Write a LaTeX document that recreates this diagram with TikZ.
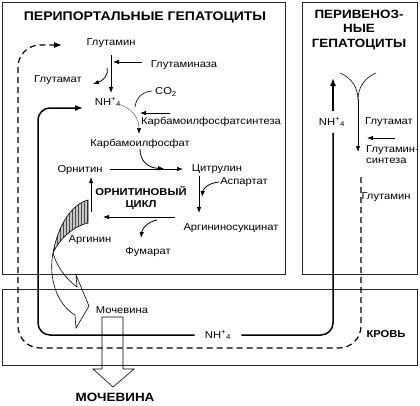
\documentclass[tikz,border=0pt]{standalone}
\usepackage{fontspec}
\setmainfont[FakeStretch=1.12]{Liberation Sans}
\usetikzlibrary{arrows.meta,patterns}
\newcommand{\nhf}{NH\textsuperscript{+}\textsubscript{4}}
\begin{document}
\begin{tikzpicture}[x=1pt,y=-1pt,
  lbl/.style={inner sep=0pt, font=\fontsize{10}{12}\selectfont},
  bld/.style={inner sep=0pt, font=\fontsize{10}{12}\selectfont\bfseries, align=center},
  ttl/.style={inner sep=0pt, font=\fontsize{12.5}{14.5}\selectfont\bfseries, align=center},
  boxline/.style={draw=black!85, line width=0.6pt},
  arr/.style={line width=0.8pt, -{Latex[length=6pt,width=4.5pt]}},
  garr/.style={line width=0.6pt, draw=black!55, -{Latex[length=6pt,width=4.5pt,fill=black,color=black]}},
  thinline/.style={line width=0.6pt},
  loopline/.style={line width=1.5pt},
  loophead/.style={-{Latex[length=8pt,width=6pt]}},
  dashline/.style={line width=1.2pt, dash pattern=on 6pt off 4pt}]
\useasboundingbox (0,0) rectangle (420,405);
% boxes
\draw[boxline] (2.5,2.5) rectangle (285,274);
\draw[boxline] (302,2.5) rectangle (417,274);
\draw[boxline] (2.5,289) rectangle (417.5,365.5);
% titles
\node[ttl] (t1) at (145,17) {ПЕРИПОРТАЛЬНЫЕ ГЕПАТОЦИТЫ};
\node[ttl, font=\fontsize{12}{14.5}\selectfont\bfseries] (t2) at (359,30) {ПЕРИВЕНОЗ-\\НЫЕ\\ГЕПАТОЦИТЫ};
% left labels
\node[lbl] (gln) at (111,43) {Глутамин};
\node[lbl] (glnase) at (184,65) {Глутаминаза};
\node[lbl] (glu) at (58,80) {Глутамат};
\node[lbl] (nh1) at (108,102) {\nhf};
\node[lbl] (co2) at (166,92) {CO\textsubscript{2}};
\node[lbl] (cps) at (211,122) {Карбамоилфосфатсинтеза};
\node[lbl] (cp) at (140,144) {Карбамоилфосфат};
\node[lbl] (orn) at (80,170) {Орнитин};
\node[lbl] (cit) at (217,169) {Цитрулин};
\node[lbl] (asp) at (244,182) {Аспартат};
\node[bld] (cyc) at (141,198) {ОРНИТИНОВЫЙ\\ЦИКЛ};
\node[lbl] (asuc) at (231,228) {Аргининосукцинат};
\node[lbl] (arg) at (90,240) {Аргинин};
\node[lbl] (fum) at (148,252) {Фумарат};
\node[lbl] (urea) at (122,310) {Мочевина};
\node[lbl, inner xsep=10pt] (nhB) at (218,335) {\nhf};
\node[bld] (blood) at (386,334) {КРОВЬ};
\node[ttl, font=\fontsize{12}{14}\selectfont\bfseries] (ureaOut) at (115,397) {МОЧЕВИНА};
% right labels
\node[lbl, inner ysep=6pt] (nhR) at (332,122) {\nhf};
\node[lbl] (gluR) at (389,122) {Глутамат};
\node[lbl, anchor=west, align=left, font=\fontsize{10}{11}\selectfont] (gsR) at (366,155) {Глутамин-\\синтеза};
\node[lbl] (glnR) at (386,197) {Глутамин};
% coordinates
\coordinate (c1) at (111,55);
\coordinate (c2) at (111,93);
% left arrows
\draw[arr] (c1) -- (c2);
\draw[arr] (glnase.west) ++(-9,-3) -- (113,62);
\draw[arr] (107,68) .. controls (109,76) and (102,81) .. (93,84);
\draw[thinline] (co2.west) ++(-3,-1) .. controls (141,92) and (136,99) .. (135,107);
\draw[garr] (118,104) .. controls (132,108) and (139,118) .. (139,134);
\draw[arr] (170,113) -- (140,113);
\draw[arr] (140,149) .. controls (140,161) and (148,168) .. (164,168.5);
\draw[arr] (110,169) -- (183,169);
\draw[arr] (199,176) -- (199,213);
\draw[arr] (asp.west) ++(-1,0) .. controls (208,183) and (203,189) .. (202,197);
\draw[arr] (175,217) -- (103,217);
\draw[arr] (157,220) .. controls (147,222) and (142,229) .. (141,238);
\draw[arr] (91,212) -- (91,177);
% right box arrows
\draw[thinline] (340,73) .. controls (352,78) and (358,88) .. (358,100);
\draw[thinline] (376,73) .. controls (364,78) and (358,88) .. (358,100);
\draw[arr] (358,100) -- (358,152);
\draw[arr] (395,138) -- (367,138);
% ribbon arrow
\fill[gray!45] (88,200) .. controls (72,204) and (58,225) .. (53,253) .. controls (60,238) and (74,226) .. (88,223) -- cycle;
\fill[pattern=vertical lines, pattern color=black!70] (88,200) .. controls (72,204) and (58,225) .. (53,253) .. controls (60,238) and (74,226) .. (88,223) -- cycle;
\draw[thinline] (88,200) .. controls (72,204) and (58,225) .. (53,253) .. controls (60,238) and (74,226) .. (88,223) -- cycle;
\draw[thinline, line join=miter] (53,253) .. controls (58,270) and (68,280) .. (77,287) -- (76,275) -- (89,306) -- (76,328) -- (75,315) .. controls (58,305) and (48,280) .. (53,253);
% urea block arrow
\draw[thinline] (102,317) -- (123,317) -- (123,369) -- (134,369) -- (113,387) -- (93,369) -- (102,369) -- cycle;
% NH4 loop
\draw[loopline, loophead, rounded corners=12pt] (nhB.west) -- (38,335) -- (38,108) -- (83,108);
\draw[loopline, rounded corners=12pt] (nhB.east) -- (333,335) -- (nhR.south -| 333,0);
\draw[loopline, loophead] (nhR.north -| 333,0) -- (333,78);
% dashed glutamine loop
\draw[dashline, loophead, rounded corners=22pt] (361,177) -- (361,348) -- (18,348) -- (18,45) -- (62,45);
\end{tikzpicture}
\end{document}
